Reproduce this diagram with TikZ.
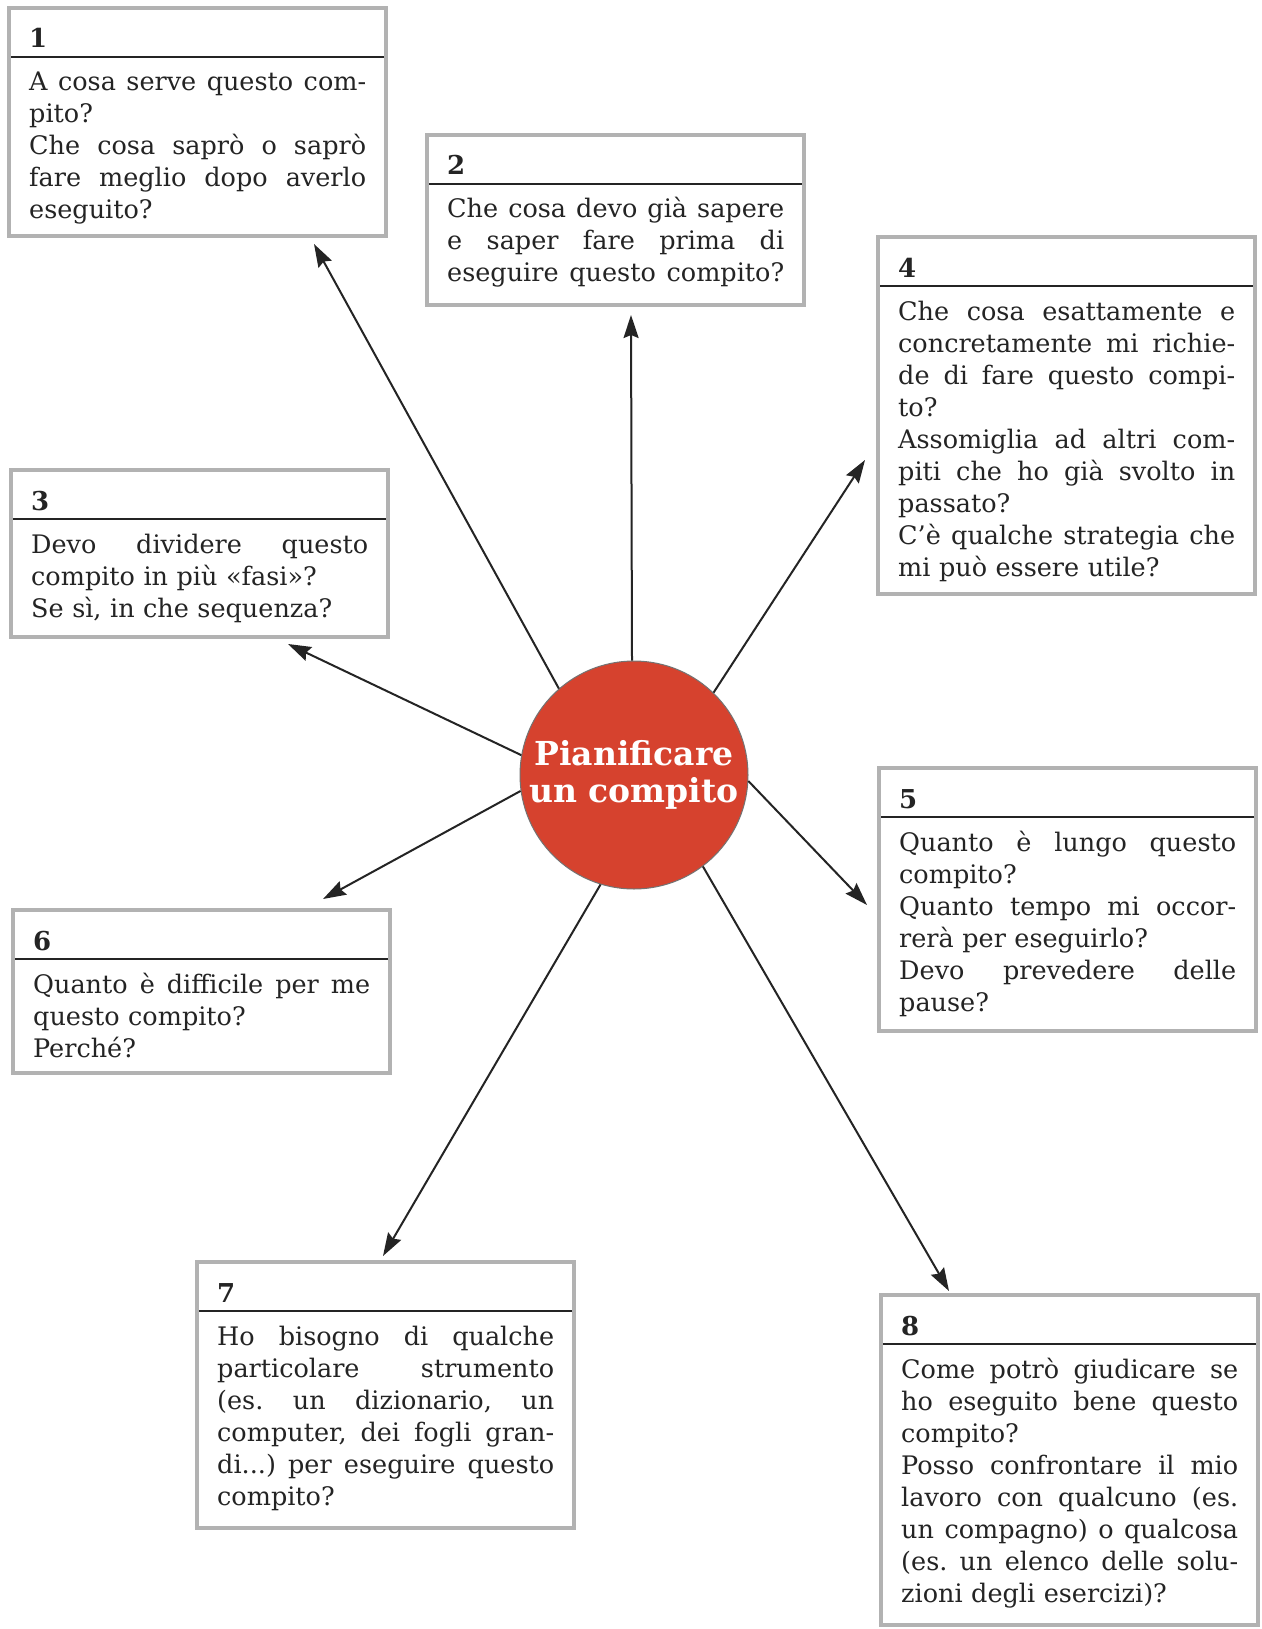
\documentclass[tikz,border=0pt]{standalone}
\usepackage{fontspec}
\setmainfont{DejaVu Serif}
\usetikzlibrary{arrows.meta}
\definecolor{circred}{RGB}{214,66,46}
\definecolor{boxgray}{RGB}{178,178,178}
\definecolor{ink}{RGB}{36,36,36}
\newcommand{\jl}[1]{\leavevmode\hbox to 337pt{\frenchspacing\spaceskip=0.32em plus 1fil\xspaceskip=0.32em plus 1fil\relax #1}}
\newcommand{\qbox}[6]{%
  \node[qframe, minimum height=#4pt, anchor=north west] (#1) at (#2,#3) {};
  \draw[sepline] ([xshift=2pt,yshift=-49pt]#1.north west) -- ([xshift=-2pt,yshift=-49pt]#1.north east);
  \node[numtext, anchor=base west] (#1n) at ([xshift=20pt,yshift=-40pt]#1.north west) {#5};
  \node[bodytext, anchor=base west] (#1t) at ([xshift=20pt,yshift=-83pt]#1.north west) {#6};
}
\tikzset{
  qframe/.style={draw=boxgray, line width=4.5pt, minimum width=377pt, inner sep=0pt, outer sep=0pt, fill=white},
  sepline/.style={draw=ink, line width=1.2pt},
  numtext/.style={inner sep=0pt, text=ink, font=\bfseries\fontsize{26}{30}\selectfont},
  bodytext/.style={inner sep=0pt, text=ink, text width=337pt, align=left, font=\fontsize{25.5}{32}\selectfont},
  arr/.style={draw=ink, line width=2pt, -{Stealth[length=23pt,width=15pt,inset=3pt]}},
}
\begin{document}
\begin{tikzpicture}[x=1pt,y=-1pt]
\fill[white] (0,0) rectangle (1261,1629);
\useasboundingbox (0,0) rectangle (1261,1629);

\qbox{b1}{9}{8}{228}{1}{\jl{A cosa serve questo com-}\\pito?\\\jl{Che cosa saprò o saprò}\\\jl{fare meglio dopo averlo}\\eseguito?}
\qbox{b2}{427}{135}{170}{2}{\jl{Che cosa devo già sapere}\\\jl{e saper fare prima di}\\\jl{eseguire questo compito?}}
\qbox{b4}{878}{237}{357}{4}{\jl{Che cosa esattamente e}\\\jl{concretamente mi richie-}\\\jl{de di fare questo compi-}\\to?\\\jl{Assomiglia ad altri com-}\\\jl{piti che ho già svolto in}\\passato?\\\jl{C’è qualche strategia che}\\mi può essere utile?}
\qbox{b3}{11}{470}{167}{3}{\jl{Devo dividere questo}\\compito in più «fasi»?\\Se sì, in che sequenza?}
\qbox{b5}{879}{768}{263}{5}{\jl{Quanto è lungo questo}\\compito?\\\jl{Quanto tempo mi occor-}\\rerà per eseguirlo?\\\jl{Devo prevedere delle}\\pause?}
\qbox{b6}{13}{910}{163}{6}{\jl{Quanto è difficile per me}\\questo compito?\\Perché?}
\qbox{b7}{197}{1262}{266}{7}{\jl{Ho bisogno di qualche}\\\jl{particolare strumento}\\\jl{(es. un dizionario, un}\\\jl{computer, dei fogli gran-}\\\jl{di...) per eseguire questo}\\compito?}
\qbox{b8}{881}{1295}{330}{8}{\jl{Come potrò giudicare se}\\\jl{ho eseguito bene questo}\\compito?\\\jl{Posso confrontare il mio}\\\jl{lavoro con qualcuno (es.}\\\jl{un compagno) o qualcosa}\\\jl{(es. un elenco delle solu-}\\zioni degli esercizi)?}

\node[circle, fill=circred, draw=black!55, line width=1pt, minimum size=228pt, inner sep=0pt,
      text=white, align=center, font=\bfseries\fontsize{33}{37}\selectfont] (c) at (634,775) {Pianificare\\un compito};

\coordinate (t1) at (314,244);
\coordinate (t2) at (631,315);
\coordinate (t4) at (865,460);
\coordinate (t3) at (288,644);
\coordinate (t6) at (323,899);
\coordinate (t5) at (867,905);
\coordinate (t7) at (383,1256);
\coordinate (t8) at (949,1291);

\draw[arr] (c.131.7) -- (t1);
\draw[arr] (c.91) -- (t2);
\draw[arr] (c.46.5) -- (t4);
\draw[arr] (c.170.6) -- (t3);
\draw[arr] (c.188.8) -- (t6);
\draw[arr] (c.-3) -- (t5);
\draw[arr] (c.253.7) -- (t7);
\draw[arr] (c.307) -- (t8);
\end{tikzpicture}
\end{document}
